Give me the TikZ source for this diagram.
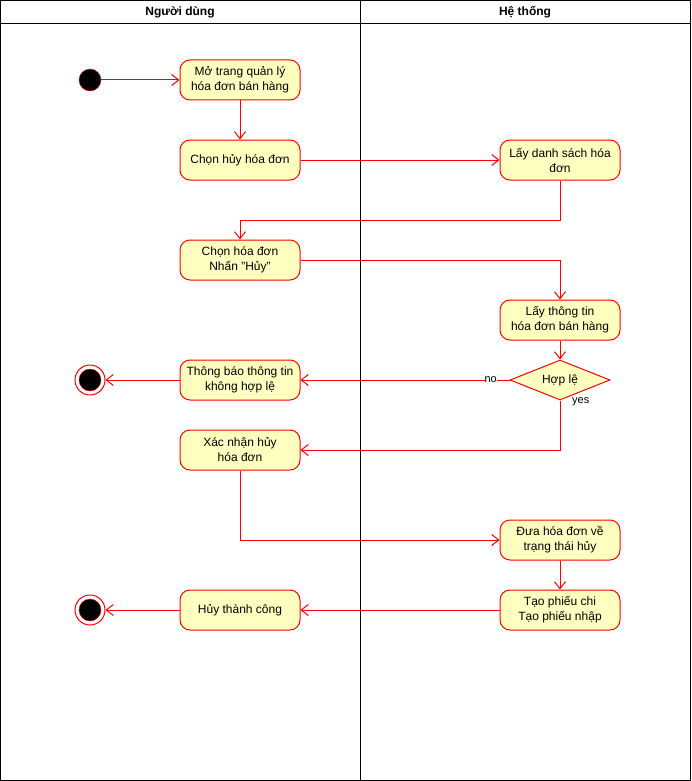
\documentclass[tikz,border=0pt]{standalone}
\usepackage{fontspec}
\setmainfont{Liberation Sans}
\usetikzlibrary{arrows.meta,shapes.geometric,positioning}
\definecolor{actfill}{HTML}{FFFFC0}
\definecolor{actline}{HTML}{FF0000}
\newcommand{\actfont}{\fontsize{12}{15}\selectfont\setlength{\lineskiplimit}{-20pt}}
\tikzset{
    act/.style={draw=actline, fill=actfill, line width=1pt, rounded corners=10pt,
        minimum width=120pt, minimum height=40pt, inner sep=0pt, align=center,
        font=\actfont},
    decide/.style={diamond, aspect=2.5, draw=actline, fill=actfill, line width=1pt,
        minimum width=100pt, minimum height=40pt, inner sep=1pt,
        font=\fontsize{12}{15}\selectfont},
    startst/.style={circle, draw=actline, fill=black, minimum size=22pt, inner sep=0pt},
    endouter/.style={circle, draw=actline, fill=white, line width=1pt, minimum size=30pt, inner sep=0pt},
    endinner/.style={circle, draw=actline, fill=black, minimum size=22pt, inner sep=0pt},
    flow/.style={draw=actline, line width=1pt, -{Straight Barb[length=7pt,width=11pt]}},
    lbl/.style={font=\fontsize{11}{13}\selectfont, inner sep=0pt},
    lanehead/.style={font=\bfseries\fontsize{12}{14}\selectfont}
}
\begin{document}
\begin{tikzpicture}[x=1pt,y=-1pt]
    \useasboundingbox (0,0) rectangle (691,781);
    % swimlanes
    \draw[line width=1pt] (0.5,0.5) rectangle (690.5,780.5);
    \draw[line width=1pt] (0.5,23.5) -- (690.5,23.5);
    \draw[line width=1pt] (360.5,0.5) -- (360.5,780.5);
    \node[lanehead] (userlane) at (180,12) {Người dùng};
    \node[lanehead] (syslane) at (525,12) {Hệ thống};
    % user side
    \node[startst] (start) at (90,80) {};
    \node[act] (openpage) at (240,80) {Mở trang quản lý\\hóa đơn bán hàng};
    \node[act] (pickcancel) at (240,160) {Chọn hủy hóa đơn};
    \node[act] (pickbill) at (240,260) {Chọn hóa đơn\\Nhấn \symbol{34}Hủy\symbol{34}};
    \node[act] (invalid) at (240,380) {Thông báo thông tin\\không hợp lệ};
    \node[act] (confirm) at (240,450) {Xác nhận hủy\\hóa đơn};
    \node[act] (done) at (240,610) {Hủy thành công};
    \node[endouter] (endA) at (90,380) {};
    \node[endinner] at (endA) {};
    \node[endouter] (endB) at (90,610) {};
    \node[endinner] at (endB) {};
    % system side
    \node[act] (getlist) at (560,160) {Lấy danh sách hóa\\đơn};
    \node[act] (getinfo) at (560,320) {Lấy thông tin\\hóa đơn bán hàng};
    \node[decide] (valid) at (560,380) {Hợp lệ};
    \node[act] (setstate) at (560,540) {Đưa hóa đơn về\\trạng thái hủy};
    \node[act] (slips) at (560,610) {Tạo phiếu chi\\Tạo phiếu nhập};
    % flows
    \draw[flow] (start) -- (openpage);
    \draw[flow] (openpage) -- (pickcancel);
    \draw[flow] (pickcancel) -- (getlist);
    \draw[flow] (getlist.south) -- ++(0,40) -| (pickbill.north);
    \draw[flow] (pickbill.east) -| (getinfo.north);
    \draw[flow] (getinfo) -- (valid);
    \draw[flow] (valid.west) -- node[lbl, fill=white, pos=0.09] {no} (invalid.east);
    \draw[flow] (valid.south) |- (confirm.east);
    \node[lbl, anchor=west] (yes) at ([xshift=12pt,yshift=-1pt]valid.south) {yes};
    \draw[flow] (invalid) -- (endA);
    \draw[flow] (confirm.south) |- (setstate.west);
    \draw[flow] (setstate) -- (slips);
    \draw[flow] (slips) -- (done);
    \draw[flow] (done) -- (endB);
\end{tikzpicture}
\end{document}
